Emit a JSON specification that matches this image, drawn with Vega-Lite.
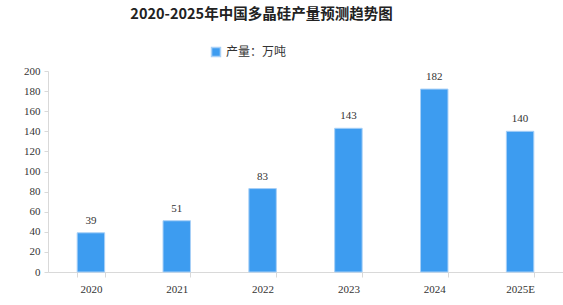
{
  "$schema": "https://vega.github.io/schema/vega-lite/v6.json",
  "width": 515,
  "height": 201,
  "autosize": {"type": "none"},
  "padding": {"left": 48, "top": 71, "right": 0, "bottom": 33},
  "title": {
    "text": "2020-2025年中国多晶硅产量预测趋势图",
    "font": "Noto Sans CJK SC",
    "fontSize": 14.5,
    "fontWeight": "bold",
    "color": "#222222",
    "anchor": "middle",
    "dx": -44,
    "offset": 24
  },
  "config": {"view": {"stroke": null}},
  "data": {
    "values": [
      {"year": "2020", "value": 39, "series": "产量：万吨"},
      {"year": "2021", "value": 51, "series": "产量：万吨"},
      {"year": "2022", "value": 83, "series": "产量：万吨"},
      {"year": "2023", "value": 143, "series": "产量：万吨"},
      {"year": "2024", "value": 182, "series": "产量：万吨"},
      {"year": "2025E", "value": 140, "series": "产量：万吨"}
    ]
  },
  "encoding": {
    "x": {
      "field": "year",
      "type": "nominal",
      "sort": null,
      "scale": {"paddingInner": 0.68, "paddingOuter": 0.34},
      "axis": {
        "title": null,
        "labelAngle": 0,
        "labelFont": "Liberation Serif",
        "labelFontSize": 11,
        "labelColor": "#333333",
        "labelPadding": 6,
        "domainColor": "#d9d9d9",
        "tickColor": "#d9d9d9",
        "tickBand": "extent",
        "tickSize": 5
      }
    },
    "y": {
      "field": "value",
      "type": "quantitative",
      "scale": {"domain": [0, 200]},
      "axis": {
        "title": null,
        "values": [0, 20, 40, 60, 80, 100, 120, 140, 160, 180, 200],
        "labelOverlap": false,
        "grid": false,
        "labelFont": "Liberation Serif",
        "labelFontSize": 11,
        "labelColor": "#333333",
        "labelPadding": 4,
        "domainColor": "#d9d9d9",
        "tickColor": "#d9d9d9",
        "tickSize": 4
      }
    }
  },
  "layer": [
    {
      "mark": {"type": "bar", "stroke": "#a8d0f7", "strokeWidth": 1},
      "encoding": {
        "color": {
          "field": "series",
          "type": "nominal",
          "scale": {"range": ["#3d9cf0"]},
          "legend": {
            "title": null,
            "orient": "none",
            "legendX": 162,
            "legendY": -25,
            "direction": "horizontal",
            "symbolType": "square",
            "symbolSize": 80,
            "labelFont": "Noto Sans CJK SC",
            "labelFontSize": 12,
            "labelColor": "#333333"
          }
        }
      }
    },
    {
      "mark": {"type": "text", "dy": -12, "font": "Liberation Serif", "fontSize": 11, "color": "#333333"},
      "encoding": {"text": {"field": "value", "type": "quantitative"}}
    }
  ]
}
